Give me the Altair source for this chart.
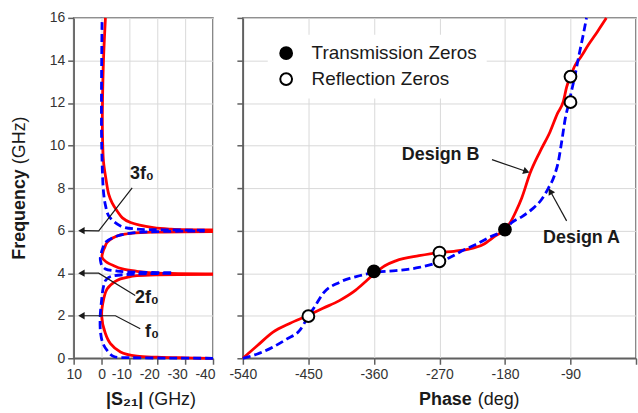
import altair as alt
import pandas as pd

FONT = "Liberation Sans"
RED = "#ff0000"
BLUE = "#0000ff"
INK = "#1a1a1a"

# ---------------- |S21| panel: frequency (GHz) vs |S21| ----------------
b1_f = [0.0, 0.02, 0.05, 0.10, 0.30, 0.69, 1.20, 2.00, 2.80, 3.26, 3.60, 3.73, 3.82, 3.88, 3.92, 3.94]
b1_v = [-40, -30, -20, -12.7, -6.8, -3.2, -1.3, -0.05, -0.8, -2.0, -4.8, -6.8, -9.5, -12.7, -20, -40]
b2_f = [3.97, 3.99, 4.03, 4.09, 4.20, 4.35, 4.55, 4.74, 5.00, 5.20, 5.45, 5.65, 5.80, 5.88, 5.93, 5.96]
b2_v = [-40, -25, -17, -12.7, -7.5, -4.4, -1.5, -0.2, -0.5, -1.1, -2.0, -4.0, -6.8, -11, -18.6, -40]
b3_f = [6.03, 6.07, 6.14, 6.38, 6.60, 6.92, 7.30, 7.70, 8.50, 9.26, 10.2, 11.0, 12.0, 14.0, 16.0]
b3_v = [-40, -25, -18.6, -10.4, -7.5, -5.6, -3.8, -2.6, -1.5, -0.7, -0.4, -0.3, -0.35, -0.7, -1.4]

a1_f = [0.0, 0.01, 0.03, 0.08, 0.37, 0.70, 1.20, 1.90, 2.70, 3.30, 3.65, 3.80, 3.88, 3.96, 3.99]
a1_v = [-40, -25, -10, -4.4, -2.0, -0.5, 0.35, 0.5, 0.0, -0.6, -1.4, -2.6, -4.4, -12.7, -25]
a2_f = [4.02, 4.05, 4.10, 4.20, 4.40, 4.58, 4.70, 4.95, 5.20, 5.45, 5.75, 5.91, 5.96, 5.98]
a2_v = [-25, -12.7, -5.6, -1.4, 0.0, 0.36, 0.45, 0.1, -0.5, -1.4, -5.6, -12.7, -22, -37]
a3_f = [6.02, 6.04, 6.07, 6.22, 6.69, 7.20, 7.70, 8.50, 9.26, 10.5, 13.0, 16.0]
a3_v = [-37, -22, -12.7, -6.8, -2.6, -1.4, -0.8, -0.4, -0.2, 0.0, 0.0, -0.2]

s21_ticks = [10, 0, -10, -20, -30, -40]
freq_ticks = [0, 2, 4, 6, 8, 10, 12, 14, 16]

# ---------------- Phase panel ----------------
b_deg = [-540, -520, -498.6, -475, -450.7, -430, -407.4, -385, -370.9, -357.2, -345, -329.9, -298,
         -270.7, -250, -229.7, -210, -193.2, -179.5, -172.7, -165, -156.8, -145.3, -131.7, -118,
         -108, -99.8, -95.3, -90, -84, -76, -65.6, -53, -40.6]
b_pf = [0, 0.6, 1.23, 1.65, 2.01, 2.35, 2.71, 3.2, 3.62, 4.04, 4.35, 4.58, 4.82,
        4.97, 5.03, 5.13, 5.35, 5.75, 6.07, 6.38, 6.9, 7.55, 8.72, 9.73, 10.65,
        11.5, 12.07, 12.75, 13.24, 13.75, 14.15, 14.72, 15.35, 16.0]
a_deg = [-540, -520, -498.6, -480, -462, -450.7, -440, -430.2, -407.4, -380, -357.2, -329.9, -298,
         -273, -255, -238.8, -220, -202.4, -179.5, -170.5, -157, -143.1, -130, -120.3, -112,
         -106.6, -102, -97, -92.5, -89, -85, -78, -72.5, -68]
a_pf = [0, 0.2, 0.53, 0.9, 1.31, 1.93, 2.5, 3.03, 3.57, 3.88, 4.04, 4.12, 4.27,
        4.5, 4.75, 5.05, 5.35, 5.67, 6.07, 6.38, 6.65, 7.0, 7.45, 8.0, 8.6,
        9.26, 10.2, 11.3, 11.95, 12.5, 13.1, 14.3, 15.2, 16.0]

tz_deg = [-360, -180]
tz_f = [4.08, 6.05]
rz_deg = [-450, -270, -270, -90, -90]
rz_f = [1.98, 4.97, 4.56, 12.04, 13.24]
phase_ticks = [-540, -450, -360, -270, -180, -90, 0]

# ---------------- annotations ----------------
harm_text = ["3f\u2080", "2f\u2080", "f\u2080"]
harm_text_v = [-14.5, -16.3, -18.1]
harm_text_f = [8.64, 2.81, 1.23]
harm_line_id = ["3", "3", "3", "2", "2", "2", "1", "1", "1"]
harm_line_v = [-11, 1, 6.8, -12.1, 1, 6.8, -13.9, -5, 6.8]
harm_line_f = [8.01, 5.99, 6.0, 2.95, 4.0, 4.0, 1.39, 2.0, 2.0]
harm_head_v = [7.2, 7.2, 7.2]
harm_head_f = [6.0, 4.0, 2.0]

design_text = ["Design B", "Design A"]
design_text_deg = [-268.4, -74.8]
design_text_f = [9.54, 5.67]
design_line_id = ["B", "B", "A", "A"]
design_line_deg = [-197.8, -150.5, -95.3, -117.7]
design_line_f = [9.34, 8.78, 6.46, 7.85]
design_head_deg = [-150.5, -117.7]
design_head_f = [8.78, 7.85]
design_head_ang = [109, 331]

# ---------------- tables ----------------
rows = []
for design, segs in [("B", [(b1_f, b1_v), (b2_f, b2_v), (b3_f, b3_v)]),
                     ("A", [(a1_f, a1_v), (a2_f, a2_v), (a3_f, a3_v)])]:
    for s, (fs, vs) in enumerate(segs):
        for i, (f, v) in enumerate(zip(fs, vs)):
            rows.append(dict(design=design, seg=f"{design}{s}", i=i, f=f, v=v))
s21 = pd.DataFrame(rows)

phB = pd.DataFrame({"deg": b_deg, "f": b_pf, "i": range(len(b_deg))})
phA = pd.DataFrame({"deg": a_deg, "f": a_pf, "i": range(len(a_deg))})
zeros = pd.DataFrame({"deg": tz_deg + rz_deg, "f": tz_f + rz_f,
                      "kind": ["Transmission Zeros"] * len(tz_deg) + ["Reflection Zeros"] * len(rz_deg)})

h_text = pd.DataFrame({"t": harm_text, "v": harm_text_v, "f": harm_text_f})
h_line = pd.DataFrame({"id": harm_line_id, "v": harm_line_v, "f": harm_line_f, "i": range(len(harm_line_v))})
h_head = pd.DataFrame({"v": harm_head_v, "f": harm_head_f})
d_text = pd.DataFrame({"t": design_text, "deg": design_text_deg, "f": design_text_f})
d_line = pd.DataFrame({"id": design_line_id, "deg": design_line_deg, "f": design_line_f, "i": range(len(design_line_deg))})
d_head = pd.DataFrame({"deg": design_head_deg, "f": design_head_f, "ang": design_head_ang})
one = pd.DataFrame({"k": [0]})

# ---------------- shared scales / axes ----------------
sF = alt.Scale(domain=[0, 16], nice=False, zero=False)
sL = alt.Scale(domain=[-40, 10], reverse=True, nice=False, zero=False)
sR = alt.Scale(domain=[-540, 0], nice=False, zero=False)

axFL = alt.Axis(values=freq_ticks, title=None)
axFR = alt.Axis(values=freq_ticks, title=None, labels=False)
axL = alt.Axis(values=s21_ticks, title=None, labelOverlap=False, labelFlush=False,
               labelExpr="'' + datum.value",
               labelOffset={"condition": {"test": "datum.value < 0", "value": -8}, "value": 0})
axR = alt.Axis(values=phase_ticks, title=None, labelOverlap=False, labelFlush=False,
               labelExpr="datum.value == 0 ? '' : '' + datum.value")

def encL(**extra):
    return dict(x=alt.X("v:Q", scale=sL, axis=axL), y=alt.Y("f:Q", scale=sF, axis=axFL), **extra)

def encR(**extra):
    return dict(x=alt.X("deg:Q", scale=sR, axis=axR), y=alt.Y("f:Q", scale=sF, axis=axFR), **extra)

def title_text(txt, x, y, align, bold, angle=0):
    kw = dict(font=FONT, fontSize=18, color=INK, align=align, baseline="middle",
              fontWeight="bold" if bold else "normal")
    if angle:
        kw["angle"] = angle
    return alt.Chart(one).mark_text(text=txt, **kw).encode(x=alt.value(x), y=alt.value(y))

# ---------------- left panel ----------------
l_red = alt.Chart(s21[s21.design == "B"]).mark_line(
    color=RED, strokeWidth=2.8, interpolate="catmull-rom").encode(**encL(detail="seg:N", order="i:Q"))
l_blue = alt.Chart(s21[s21.design == "A"]).mark_line(
    color=BLUE, strokeWidth=2.8, strokeDash=[8, 4], interpolate="catmull-rom").encode(
    **encL(detail="seg:N", order="i:Q"))
l_lines = alt.Chart(h_line).mark_line(color=INK, strokeWidth=1.2).encode(**encL(detail="id:N", order="i:Q"))
l_heads = alt.Chart(h_head).mark_point(shape="triangle-left", filled=True, color=INK,
                                       size=55, opacity=1).encode(**encL())
l_text = alt.Chart(h_text).mark_text(font=FONT, fontSize=18, fontWeight="bold", color=INK).encode(
    **encL(text="t:N"))

left = alt.layer(
    l_red, l_blue, l_lines, l_heads, l_text,
    title_text("Frequency", -54, 152, "right", True, 270),
    title_text("(GHz)", -54, 147, "left", False, 270),
    title_text("|S\u2082\u2081|", 70, 384, "right", True),
    title_text("(GHz)", 75, 384, "left", False),
).properties(width=140, height=342)

# ---------------- right panel ----------------
r_red = alt.Chart(phB).mark_line(color=RED, strokeWidth=2.8, interpolate="monotone").encode(
    **encR(order="i:Q"))
r_blue = alt.Chart(phA).mark_line(color=BLUE, strokeWidth=2.8, strokeDash=[8, 4],
                                  interpolate="monotone").encode(**encR(order="i:Q"))
r_pts = alt.Chart(zeros).mark_point(shape="circle", filled=True, stroke="black", strokeWidth=2,
                                    size=140, opacity=1).encode(**encR(
    fill=alt.Fill("kind:N",
                  scale=alt.Scale(domain=["Transmission Zeros", "Reflection Zeros"], range=["black", "white"]),
                  legend=alt.Legend(title=None, orient="none", legendX=25, legendY=17,
                                    fillColor="white", padding=9, labelFont=FONT, labelFontSize=19,
                                    labelColor=INK, labelLimit=400, symbolType="circle", symbolSize=140,
                                    symbolStrokeColor="black", symbolStrokeWidth=2, symbolOpacity=1,
                                    rowPadding=5, labelOffset=16))))
r_lines = alt.Chart(d_line).mark_line(color=INK, strokeWidth=1.2).encode(**encR(detail="id:N", order="i:Q"))
r_heads = alt.Chart(d_head).mark_point(shape="triangle-up", filled=True, color=INK,
                                       size=55, opacity=1).encode(
    **encR(angle=alt.Angle("ang:Q", scale=None)))
r_text = alt.Chart(d_text).mark_text(font=FONT, fontSize=18, fontWeight="bold", color=INK).encode(
    **encR(text="t:N"))

right = alt.layer(
    r_red, r_blue, r_pts, r_lines, r_heads, r_text,
    title_text("Phase", 230, 384, "right", True),
    title_text("(deg)", 236, 384, "left", False),
).properties(width=395, height=342)

chart = alt.hconcat(left, right, spacing=30, bounds="flush").resolve_scale(
    fill="independent").properties(
    padding={"left": 10, "top": 9, "right": 0, "bottom": 0},
    background="white",
).configure_view(stroke="#606060", strokeWidth=1.5).configure_axis(
    domainColor="#606060", domainWidth=1.5, tickColor="#606060", tickSize=6, tickWidth=1.5,
    gridColor="#d9d9d9", gridWidth=1, labelFont=FONT, labelFontSize=14, labelColor="#333333",
    labelPadding=3,
)

chart.save("out.html", embed_options={"renderer": "svg", "actions": False})
